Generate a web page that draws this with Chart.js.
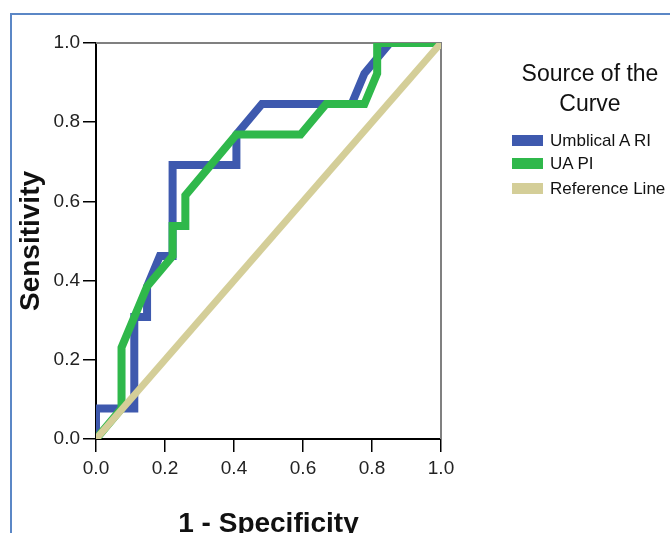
<!DOCTYPE html>
<html><head><meta charset="utf-8">
<script src="https://cdn.jsdelivr.net/npm/chart.js@4"></script>
<style>
html,body{margin:0;padding:0;background:#fff;overflow:hidden;width:670px;height:533px;position:relative;}
#frame{position:absolute;left:10px;top:13px;width:700px;height:600px;border-left:2px solid #5b87c6;border-top:2px solid #5b87c6;}
#c{position:absolute;left:0;top:0;}
.lg-title{position:absolute;left:505px;top:58px;width:170px;text-align:center;font:23px "Liberation Sans",Arial,sans-serif;line-height:30px;color:#111;}
.lg-item{position:absolute;left:512px;height:20px;font:17px "Liberation Sans",Arial,sans-serif;color:#111;line-height:20px;white-space:nowrap;}
.lg-item .box{display:inline-block;width:31px;height:11px;vertical-align:middle;margin-right:7px;position:relative;top:-1px;}
</style></head>
<body>
<div id="frame"></div>
<canvas id="c" width="670" height="541"></canvas>
<div class="lg-title" id="lgTitle"></div>
<div id="legend"></div>
<script>
// ---- data ----
const ariFpr = [0, 0, 0.111, 0.111, 0.148, 0.148, 0.185, 0.222, 0.222, 0.407, 0.407, 0.481, 0.741, 0.778, 0.852, 1];
const ariTpr = [0, 0.077, 0.077, 0.308, 0.308, 0.385, 0.462, 0.462, 0.692, 0.692, 0.769, 0.846, 0.846, 0.923, 1, 1];
const piFpr  = [0, 0.074, 0.074, 0.148, 0.222, 0.222, 0.259, 0.259, 0.407, 0.593, 0.667, 0.778, 0.815, 0.815, 1];
const piTpr  = [0, 0.077, 0.231, 0.385, 0.462, 0.538, 0.538, 0.615, 0.769, 0.769, 0.846, 0.846, 0.923, 1, 1];
const refFpr = [0, 1];
const refTpr = [0, 1];
const seriesNames  = ['Umblical A RI', 'UA PI', 'Reference Line'];
const seriesColors = ['#3e59ae', '#2fb84b', '#d4ce98'];
const tickValues = [0, 0.2, 0.4, 0.6, 0.8, 1.0];
const legendTitle = ['Source of the', 'Curve'];
const xTitle = '1 - Specificity';
const yTitle = 'Sensitivity';

const FAM = '"Liberation Sans", Arial, sans-serif';
// use a narrow face for tick labels if it is installed
const NARROW = '"Liberation Sans Narrow"';
function hasFont(name) {
  const cx = document.createElement('canvas').getContext('2d');
  cx.font = '40px monospace';
  const a = cx.measureText('0.0 abc WMi').width;
  cx.font = '40px ' + name + ', monospace';
  const b = cx.measureText('0.0 abc WMi').width;
  return Math.abs(a - b) > 0.5;
}
const narrowOk = hasFont(NARROW);
const tickFont = narrowOk ? {family: NARROW + ', ' + FAM, size: 22} : {family: FAM, size: 19};

const toPts = (xs, ys) => xs.map((x, i) => ({x: x, y: ys[i]}));

const lineDs = (i, xs, ys, w, order) => ({
  label: seriesNames[i],
  data: toPts(xs, ys),
  showLine: true,
  borderColor: seriesColors[i],
  backgroundColor: seriesColors[i],
  borderWidth: w,
  pointRadius: 0,
  pointHoverRadius: 0,
  tension: 0,
  fill: false,
  borderJoinStyle: 'miter',
  borderCapStyle: 'butt',
  clip: 0,
  order: order
});

const framePlugin = {
  id: 'plotFrame',
  beforeDatasetsDraw(chart) {
    const {ctx, chartArea: a} = chart;
    ctx.save();
    ctx.strokeStyle = '#808080';
    ctx.lineWidth = 2;
    ctx.beginPath();
    ctx.moveTo(a.left, a.top);
    ctx.lineTo(a.right, a.top);
    ctx.lineTo(a.right, a.bottom);
    ctx.stroke();
    ctx.restore();
  }
};

const axisCommon = (title, titlePad, fitFn) => ({
  type: 'linear',
  min: 0, max: 1,
  afterBuildTicks: s => { s.ticks = tickValues.map(v => ({value: v})); },
  afterFit: fitFn,
  grid: {drawOnChartArea: false, drawTicks: true, tickLength: 13, color: '#000', lineWidth: 1.5},
  border: {display: true, color: '#000', width: 2},
  ticks: {font: tickFont, color: '#222', callback: v => Number(v).toFixed(1), maxRotation: 0, autoSkip: false},
  title: {display: true, text: title, color: '#111', font: {family: FAM, size: 28, weight: 'bold'}, padding: titlePad}
});

const xAxis = axisCommon(xTitle, {top: 0, bottom: 0}, s => { s.height = 102; });
xAxis.position = 'bottom';
xAxis.ticks.padding = narrowOk ? 4 : 5;
const yAxis = axisCommon(yTitle, {top: 2, bottom: 0}, s => { s.width = 84; });
yAxis.position = 'left';
yAxis.ticks.padding = 3;

new Chart(document.getElementById('c'), {
  type: 'scatter',
  data: {
    datasets: [
      lineDs(0, ariFpr, ariTpr, 8, 2),
      lineDs(1, piFpr, piTpr, 8, 1),
      lineDs(2, refFpr, refTpr, 7, 0)
    ]
  },
  options: {
    responsive: false,
    animation: false,
    devicePixelRatio: 1,
    layout: {padding: {left: 12, top: 43, right: 229, bottom: 0}},
    plugins: {legend: {display: false}, tooltip: {enabled: false}},
    scales: {x: xAxis, y: yAxis}
  },
  plugins: [framePlugin]
});

// HTML legend
document.getElementById('lgTitle').innerHTML = legendTitle.join('<br>');
const lg = document.getElementById('legend');
const itemTops = [131, 154, 179];
seriesNames.forEach((n, i) => {
  const d = document.createElement('div');
  d.className = 'lg-item';
  d.style.top = itemTops[i] + 'px';
  const b = document.createElement('span');
  b.className = 'box';
  b.style.background = seriesColors[i];
  d.appendChild(b);
  d.appendChild(document.createTextNode(n));
  lg.appendChild(d);
});
</script>
</body></html>
